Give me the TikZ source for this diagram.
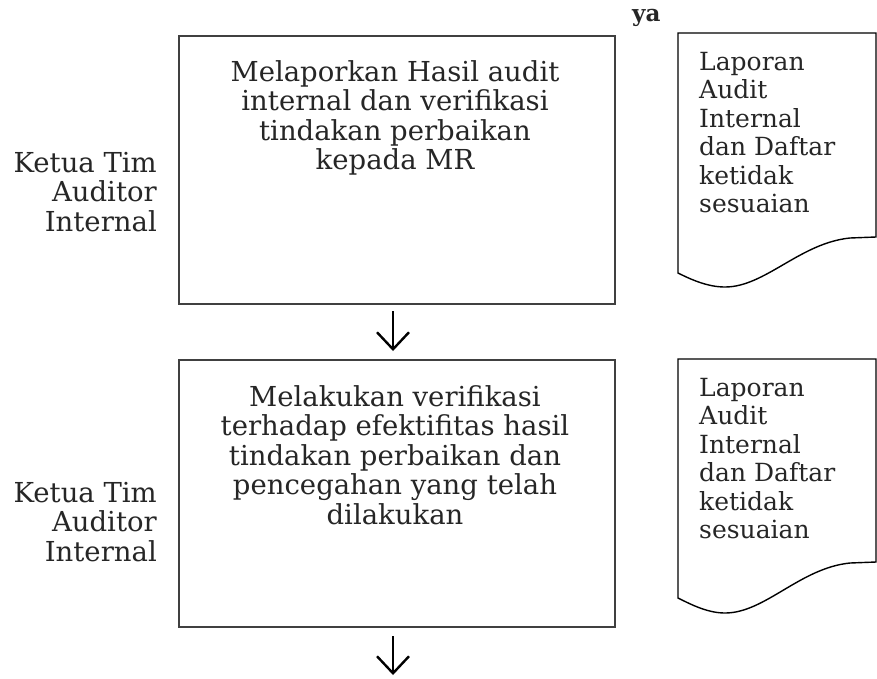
\documentclass[tikz,border=0pt]{standalone}
\usepackage{fontspec}
\setmainfont{DejaVu Serif}
\usetikzlibrary{arrows.meta}
\begin{document}
\begin{tikzpicture}[x=1pt,y=-1pt,
  txt/.style={font=\fontsize{27.5}{29.5}\selectfont, inner sep=0pt, text=black!85},
  actor/.style={font=\fontsize{27.5}{29.5}\selectfont, inner sep=0pt, text=black!85},
  doctxt/.style={font=\fontsize{25}{28.5}\selectfont, inner sep=0pt, text=black!85},
  proc/.style={draw=black!75, line width=1.8pt},
  doc/.style={draw=black, line width=1.4pt},
  flow/.style={line width=2.4pt, -{Straight Barb[length=17pt,width=32pt,line width=2.4pt]}}]
\useasboundingbox (0,0) rectangle (877,678);
% process boxes
\node[proc, minimum width=436pt, minimum height=268pt, anchor=north west, inner sep=0pt] (p1) at (178,35) {};
\node[proc, minimum width=436pt, minimum height=267pt, anchor=north west, inner sep=0pt] (p2) at (178,359) {};
\node[txt, align=center, anchor=north] (t1) at (395,60) {Melaporkan Hasil audit\\internal dan verifikasi\\tindakan perbaikan\\kepada MR};
\node[txt, align=center, anchor=north] (t2) at (395,385) {Melakukan verifikasi\\terhadap efektifitas hasil\\tindakan perbaikan dan\\pencegahan yang telah\\dilakukan};
% actors
\node[actor, align=right, anchor=north east] (a1) at (157,152) {Ketua Tim\\Auditor\\Internal};
\node[actor, align=right, anchor=north east] (a2) at (157,482) {Ketua Tim\\Auditor\\Internal};
% documents
\draw[doc] (678,33) -- (876,33) -- (876,237) -- (850,238)
  .. controls (800,243) and (765,287) .. (725,287)
  .. controls (708,287) and (692,280) .. (678,273) -- cycle;
\draw[doc] (678,359) -- (876,359) -- (876,562) -- (850,563)
  .. controls (800,568) and (765,613) .. (725,613)
  .. controls (708,613) and (692,605) .. (678,598) -- cycle;
\node[doctxt, align=left, anchor=north west] (d1) at (699,52) {Laporan\\Audit\\Internal\\dan Daftar\\ketidak\\sesuaian};
\node[doctxt, align=left, anchor=north west] (d2) at (699,378) {Laporan\\Audit\\Internal\\dan Daftar\\ketidak\\sesuaian};
\node[inner sep=0pt, font=\bfseries\fontsize{23}{26}\selectfont, text=black!85, anchor=base west] (ya) at (632,21) {ya};
% flow arrows
\coordinate (s1) at (393,311);
\coordinate (e1) at (393,351);
\coordinate (s2) at (393,636);
\coordinate (e2) at (393,675);
\draw[flow] (s1) -- (e1);
\draw[flow] (s2) -- (e2);
\end{tikzpicture}
\end{document}
